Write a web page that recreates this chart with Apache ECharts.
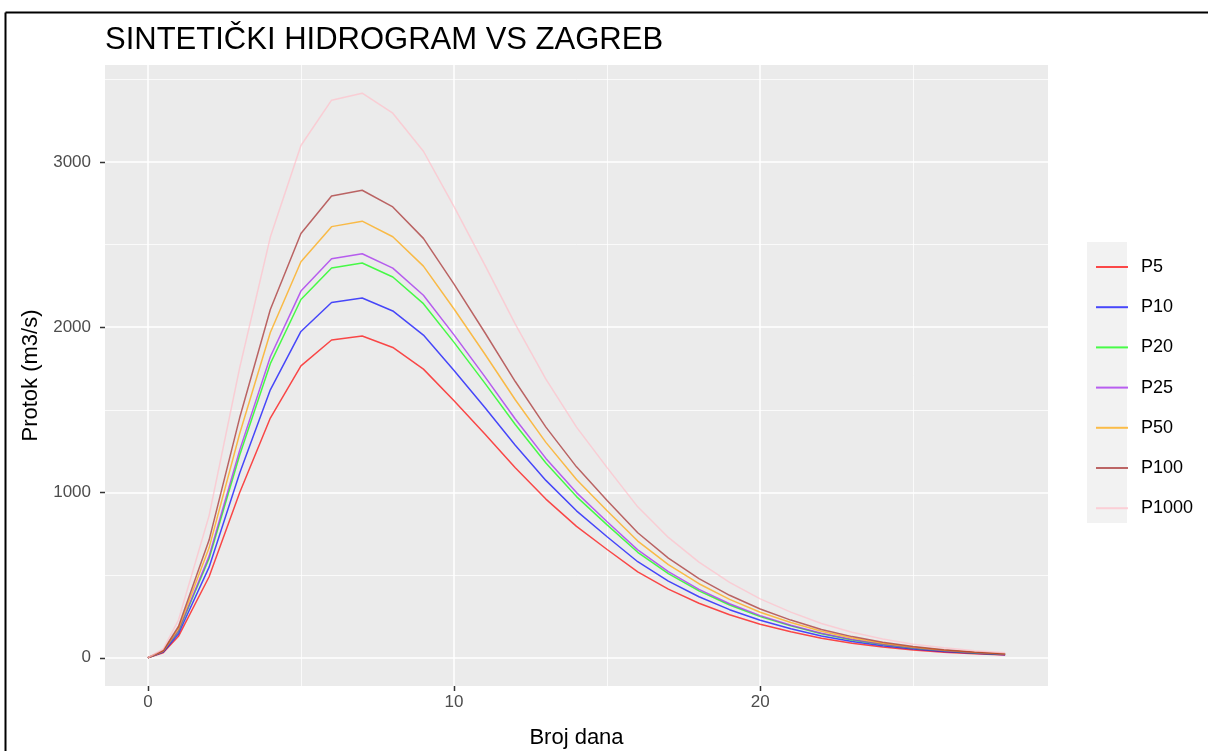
<!DOCTYPE html>
<html>
<head>
<meta charset="utf-8">
<script src="https://cdn.jsdelivr.net/npm/echarts@6/dist/echarts.min.js"></script>
<style>
html,body{margin:0;padding:0;background:#fff;}
#c{width:1208px;height:751px;}
</style>
</head>
<body>
<div id="c"></div>
<script>
const days = [0,0.5,1,2,3,4,5,6,7,8,9,10,11,12,13,14,15,16,17,18,19,20,21,22,23,24,25,26,27,28];
const seriesNames = ['P5','P10','P20','P25','P50','P100','P1000'];
const P5 = [0,30,130,490,1000,1450,1766,1922,1946,1877,1746,1555,1355,1150,960,795,655,520,415,330,260,203,157,118,88,65,47,34,24,17];
const P10 = [0,34,145,548,1118,1621,1974,2149,2176,2098,1952,1738,1515,1286,1073,889,732,581,464,369,291,227,176,132,98,73,53,38,27,19];
const P20 = [0,37,160,601,1227,1779,2167,2358,2388,2303,2142,1908,1663,1411,1178,975,804,638,509,405,319,249,193,145,108,80,58,42,29,21];
const P25 = [0,38,163,615,1256,1821,2218,2414,2444,2357,2193,1953,1702,1444,1206,999,823,653,521,414,327,255,197,148,111,82,59,43,30,21];
const P50 = [0,41,176,665,1357,1968,2396,2608,2641,2547,2369,2110,1839,1561,1303,1079,889,706,563,448,353,275,213,160,119,88,64,46,33,23];
const P100 = [0,44,189,712,1453,2107,2566,2793,2828,2727,2537,2260,1969,1671,1395,1155,952,756,603,479,378,295,228,171,128,94,68,49,35,25];
const P1000 = [0,53,228,860,1755,2545,3099,3373,3415,3294,3064,2729,2378,2018,1685,1395,1150,913,728,579,456,356,276,207,154,114,82,60,42,30];
const xTicks = [0,10,20];
const xMinor = [5,15,25];
const yTicks = [0,1000,2000,3000];
const yMinor = [500,1500,2500,3500];

const values = [P5,P10,P20,P25,P50,P100,P1000];
const colors = ['rgba(255,0,0,0.7)','rgba(0,0,255,0.7)','rgba(0,255,0,0.7)','rgba(160,32,240,0.7)','rgba(255,165,0,0.7)','rgba(165,42,42,0.7)','rgba(255,192,203,0.7)'];
const FONT = 'Liberation Sans, Arial, sans-serif';

const xMin = -1.4, xMax = 29.4;
const yMin = -170.75, yMax = 3585.75;

const GRID = {left:105, right:160, top:65, bottom:65};
const baseGraphic = [
  {type:'line', z:100, shape:{x1:5.5,y1:12.5,x2:1208,y2:12.5}, style:{stroke:'#000',lineWidth:2}},
  {type:'line', z:100, shape:{x1:5.5,y1:12.5,x2:5.5,y2:751}, style:{stroke:'#000',lineWidth:2}},
  {type:'rect', shape:{x:1087,y:242,width:40,height:281}, style:{fill:'#F2F2F2'}, z:-1}
];

const chart = echarts.init(document.getElementById('c'), null, {renderer:'canvas'});
chart.setOption({
  animation:false,
  backgroundColor:'#ffffff',
  title:{
    text:'SINTETIČKI HIDROGRAM VS ZAGREB',
    left:100, top:20,
    textStyle:{fontFamily:FONT, fontSize:31, fontWeight:'normal', color:'#000'}
  },
  legend:{
    orient:'vertical',
    left:1091, top:252,
    icon:'rect',
    itemWidth:32, itemHeight:2,
    itemGap:20.2,
    data:seriesNames,
    textStyle:{fontFamily:FONT, fontSize:18, color:'#000', lineHeight:20, padding:[0,0,0,8]}
  },
  grid:Object.assign({show:true, backgroundColor:'#EBEBEB', borderWidth:0,
        containLabel:false, outerBoundsMode:'none'}, GRID),
  xAxis:[{
    type:'value', min:xMin, max:xMax,
    name:'Broj dana', nameLocation:'middle', nameGap:41,
    nameTextStyle:{fontFamily:FONT, fontSize:22, color:'#000'},
    axisLine:{show:false, onZero:false},
    axisTick:{show:false, customValues:xTicks},
    axisLabel:{fontFamily:FONT, fontSize:17, color:'#4D4D4D', margin:8, customValues:xTicks},
    splitLine:{show:true, lineStyle:{color:'#fff', width:1.5}}
  },{
    type:'value', min:xMin, max:xMax, position:'top',
    axisLine:{show:false, onZero:false},
    axisTick:{show:false, customValues:xMinor},
    axisLabel:{show:false, customValues:xMinor},
    splitLine:{show:true, lineStyle:{color:'#fff', width:0.75}}
  }],
  yAxis:[{
    type:'value', min:yMin, max:yMax,
    name:'Protok (m3/s)', nameLocation:'middle', nameGap:61,
    nameTextStyle:{fontFamily:FONT, fontSize:22, color:'#000'},
    axisLine:{show:false, onZero:false},
    axisTick:{show:false, customValues:yTicks},
    axisLabel:{fontFamily:FONT, fontSize:17, color:'#4D4D4D', margin:14, customValues:yTicks,
      formatter:(v)=>String(v)},
    splitLine:{show:true, lineStyle:{color:'#fff', width:1.5}}
  },{
    type:'value', min:yMin, max:yMax, position:'right',
    axisLine:{show:false, onZero:false},
    axisTick:{show:false, customValues:yMinor},
    axisLabel:{show:false, customValues:yMinor},
    splitLine:{show:true, lineStyle:{color:'#fff', width:0.75}}
  }],
  series: seriesNames.map((n,i)=>({
    name:n, type:'line', xAxisIndex:0, yAxisIndex:0,
    data: days.map((d,j)=>[d, values[i][j]]),
    showSymbol:false, symbol:'none',
    color:colors[i],
    lineStyle:{width:1.5, color:colors[i]},
    itemStyle:{color:colors[i]},
    emphasis:{disabled:true}
  }))
});

// axis tick marks placed through the library's own scales
const H = 751;
const axisX = GRID.left, axisY = H - GRID.bottom;
const tickEls = [];
xTicks.forEach(v=>{
  const px = Math.round(chart.convertToPixel({xAxisIndex:0}, v)) + 0.5;
  tickEls.push({type:'rect', z:100, silent:true, shape:{x:px-0.75,y:axisY,width:1.5,height:5}, style:{fill:'#333333'}});
});
yTicks.forEach(v=>{
  const py = Math.round(chart.convertToPixel({yAxisIndex:0}, v)) + 0.5;
  tickEls.push({type:'rect', z:100, silent:true, shape:{x:axisX-5,y:py-0.75,width:5,height:1.5}, style:{fill:'#333333'}});
});
chart.setOption({graphic: baseGraphic.concat(tickEls)});
</script>
</body>
</html>
